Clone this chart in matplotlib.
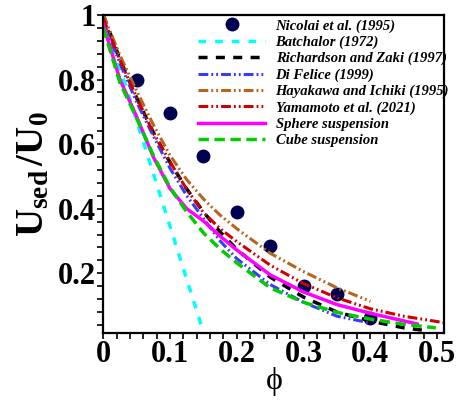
import numpy as np
import matplotlib
matplotlib.use('Agg')
import matplotlib.pyplot as plt

plt.rcParams['font.family'] = ['Liberation Serif', 'DejaVu Serif']
plt.rcParams['mathtext.fontset'] = 'custom'
plt.rcParams['mathtext.rm'] = 'Liberation Serif'
plt.rcParams['mathtext.it'] = 'Liberation Serif:italic'
plt.rcParams['mathtext.bf'] = 'Liberation Serif:bold'

# Nicolai et al. (1995) experiments
phi_exp = [0.05, 0.10, 0.15, 0.20, 0.25, 0.30, 0.35, 0.40]
u_exp = [0.80, 0.697, 0.564, 0.39, 0.284, 0.162, 0.136, 0.063]

# Batchelor (1972)
phi_bat = [0.0, 0.05, 0.10, 0.147]
u_bat = [1.0, 0.672, 0.345, 0.037]

phi = [0.0, 0.025, 0.05, 0.075, 0.10, 0.125, 0.15, 0.175, 0.20, 0.25, 0.30, 0.35, 0.40, 0.45, 0.485]
# Richardson and Zaki (1997)
u_rz = [1.0, 0.863, 0.743, 0.636, 0.543, 0.461, 0.390, 0.328, 0.274, 0.188, 0.126, 0.080, 0.052, 0.031, 0.022]

phi_df = [0.0, 0.025, 0.05, 0.075, 0.10, 0.125, 0.15, 0.175, 0.20, 0.25, 0.30, 0.35, 0.40]
# Di Felice (1999)
u_df = [0.98, 0.85, 0.73, 0.625, 0.525, 0.44, 0.37, 0.30, 0.245, 0.165, 0.11, 0.067, 0.046]
# Hayakawa and Ichiki (1995)
u_hi = [1.0, 0.875, 0.765, 0.66, 0.565, 0.49, 0.43, 0.38, 0.338, 0.262, 0.205, 0.155, 0.113]

phi_ya = [0.0, 0.025, 0.05, 0.075, 0.10, 0.125, 0.15, 0.175, 0.20, 0.25, 0.30, 0.35, 0.40, 0.45, 0.51]
# Yamamoto et al. (2021)
u_ya = [0.99, 0.86, 0.745, 0.635, 0.545, 0.46, 0.388, 0.338, 0.298, 0.225, 0.168, 0.124, 0.09, 0.067, 0.047]

phi_sp = [0.0, 0.025, 0.05, 0.075, 0.10, 0.125, 0.15, 0.175, 0.20, 0.25, 0.30, 0.35, 0.40, 0.47]
# Sphere suspension
u_sp = [0.97, 0.80, 0.685, 0.56, 0.462, 0.40, 0.362, 0.315, 0.272, 0.195, 0.142, 0.103, 0.076, 0.043]

phi_cu = [0.0, 0.025, 0.05, 0.075, 0.10, 0.125, 0.15, 0.175, 0.20, 0.25, 0.30, 0.35, 0.40, 0.45, 0.498]
# Cube suspension
u_cu = [0.96, 0.79, 0.68, 0.565, 0.465, 0.39, 0.325, 0.275, 0.232, 0.155, 0.11, 0.079, 0.058, 0.042, 0.031]

xticks = [0, 0.1, 0.2, 0.3, 0.4, 0.5]
xticklabels = ['0', '0.1', '0.2', '0.3', '0.4', '0.5']
yticks = [0.2, 0.4, 0.6, 0.8, 1.0]
yticklabels = ['0.2', '0.4', '0.6', '0.8', '1']

fig = plt.figure(figsize=(4.59, 4.0), dpi=100)
ax = fig.add_axes([0.225, 0.1675, 0.742, 0.795])

ddot = (0, (3.2, 1.0, 0.6, 1.0, 0.6, 1.0))

ax.plot(phi_exp, u_exp, 'o', color='#000050', markersize=9, label='Nicolai et al. (1995)', zorder=1)
ax.plot(phi_bat, u_bat, color='#00ffff', lw=2.5, ls=(0, (2.2, 2.6)), label='Batchalor (1972)')
ax.plot(phi, u_rz, color='black', lw=2.5, ls=(0, (2.6, 2.4)), label='Richardson and Zaki (1997)')
ax.plot(phi_df, u_df, color='#3a3aff', lw=2.2, ls=ddot, label='Di Felice (1999)')
ax.plot(phi_df, u_hi, color='#b5651d', lw=2.2, ls=ddot, label='Hayakawa and Ichiki (1995)')
ax.plot(phi_ya, u_ya, color='#d00000', lw=2.2, ls=ddot, label='Yamamoto et al. (2021)')
ax.plot(phi_sp, u_sp, color='#ff00ff', lw=2.5, label='Sphere suspension')
ax.plot(phi_cu, u_cu, color='#00cc00', lw=2.5, ls=(0, (3.0, 1.6)), label='Cube suspension')

ax.set_xlim(0, 0.51)
ax.set_ylim(0.015, 0.995)
ax.set_xticks(xticks)
ax.set_xticklabels(xticklabels)
ax.set_yticks(yticks)
ax.set_yticklabels(yticklabels)
ax.set_xticks(np.arange(0, 0.51, 0.02), minor=True)
ax.set_yticks(np.arange(0.04, 1.0, 0.04), minor=True)
ax.tick_params(which='both', direction='out', length=4, width=1.2, pad=1,
               top=False, right=False)
for lab in ax.get_xticklabels() + ax.get_yticklabels():
    lab.set_fontsize(22)
    lab.set_fontweight('bold')
for s in ax.spines.values():
    s.set_linewidth(1.6)

ax.set_xlabel(r'$\mathrm{\phi}$', fontsize=23)
ax.xaxis.set_label_coords(0.5, -0.1)
ax.set_ylabel(r'$\mathbf{U_{sed}}\,\mathbf{/U_0}$', fontsize=28)
ax.yaxis.set_label_coords(-0.15, 0.5)

leg = ax.legend(loc='upper left', bbox_to_anchor=(0.279, 0.987), frameon=False,
                prop={'family': 'Liberation Serif', 'weight': 'bold', 'style': 'italic', 'size': 10.5},
                handlelength=4.6, handletextpad=0.7, labelspacing=0.2,
                borderpad=0, borderaxespad=0, numpoints=1)

fig.savefig('out.png', dpi=100)
